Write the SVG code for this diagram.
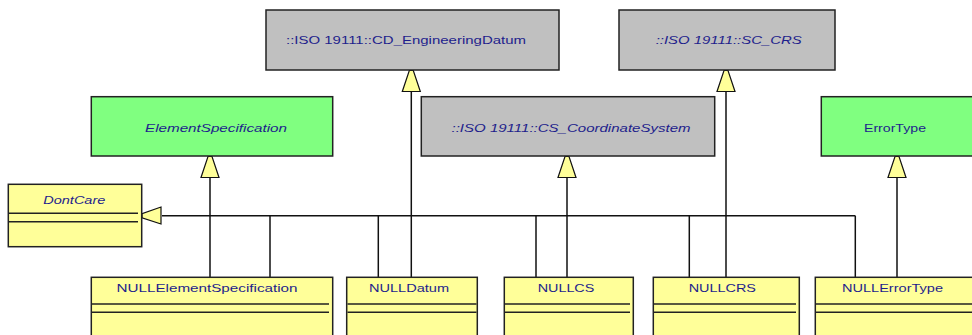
<svg xmlns="http://www.w3.org/2000/svg" width="972" height="335" viewBox="0 0 972 335">
<style>
.box{stroke:#222;stroke-width:1.5}
.gray{fill:#c0c0c0}
.green{fill:#80ff80}
.yel{fill:#ffff99}
.div{stroke:#222;stroke-width:1.5;fill:none}
.t{font-family:"Liberation Sans",Arial,sans-serif;font-size:11.5px;fill:#1e1e8c;text-anchor:middle}
.i{font-style:italic}
.ln{stroke:#111;stroke-width:1.5;fill:none}
.ah{fill:#ffff99;stroke:#111;stroke-width:1.2}
</style>
<defs>
<polygon id="up" class="ah" points="-2,0 2,0 9,21 -9,21"/>
</defs>
<rect width="972" height="335" fill="#fff"/>

<g id="connectors">
<line class="ln" x1="162" y1="215.7" x2="855.3" y2="215.7"/>
<line class="ln" x1="270" y1="215.7" x2="270" y2="277.3"/>
<line class="ln" x1="378.3" y1="215.7" x2="378.3" y2="277.3"/>
<line class="ln" x1="536" y1="215.7" x2="536" y2="277.3"/>
<line class="ln" x1="689.3" y1="215.7" x2="689.3" y2="277.3"/>
<line class="ln" x1="855.3" y1="215.7" x2="855.3" y2="277.3"/>
<line class="ln" x1="210" y1="177" x2="210" y2="277.3"/>
<line class="ln" x1="411.3" y1="91" x2="411.3" y2="277.3"/>
<line class="ln" x1="567" y1="177" x2="567" y2="277.3"/>
<line class="ln" x1="726" y1="91" x2="726" y2="277.3"/>
<line class="ln" x1="897" y1="177" x2="897" y2="277.3"/>
<use href="#up" x="411.3" y="70.5"/>
<use href="#up" x="726" y="70.5"/>
<use href="#up" x="210" y="156.5"/>
<use href="#up" x="567" y="156.5"/>
<use href="#up" x="897" y="156.5"/>
<polygon class="ah" points="142,213.7 142,217.7 161,224 161,207"/>
</g>

<g id="CD_EngineeringDatum">
<rect class="box gray" x="266" y="10" width="293" height="60"/>
<text class="t" x="406" y="44" textLength="240" lengthAdjust="spacingAndGlyphs">::ISO 19111::CD_EngineeringDatum</text>
</g>
<g id="SC_CRS">
<rect class="box gray" x="619" y="10" width="216" height="60"/>
<text class="t i" x="728.7" y="44" textLength="146" lengthAdjust="spacingAndGlyphs">::ISO 19111::SC_CRS</text>
</g>
<g id="ElementSpecification">
<rect class="box green" x="91.3" y="96.7" width="241.4" height="59.3"/>
<text class="t i" x="216" y="131.5" textLength="142" lengthAdjust="spacingAndGlyphs">ElementSpecification</text>
</g>
<g id="CS_CoordinateSystem">
<rect class="box gray" x="421.3" y="96.7" width="293.4" height="59.3"/>
<text class="t i" x="571" y="131.5" textLength="239" lengthAdjust="spacingAndGlyphs">::ISO 19111::CS_CoordinateSystem</text>
</g>
<g id="ErrorType">
<rect class="box green" x="821.3" y="96.7" width="160" height="59.3"/>
<text class="t" x="895" y="131.5" textLength="62" lengthAdjust="spacingAndGlyphs">ErrorType</text>
</g>
<g id="DontCare">
<rect class="box yel" x="8.3" y="184.3" width="133.4" height="62.4"/>
<line class="div" x1="9" y1="213.3" x2="138" y2="213.3"/>
<line class="div" x1="9" y1="221.7" x2="138" y2="221.7"/>
<text class="t i" x="74.3" y="203.5" textLength="62" lengthAdjust="spacingAndGlyphs">DontCare</text>
</g>
<g id="NULLElementSpecification">
<rect class="box yel" x="91.3" y="277.3" width="241.4" height="70"/>
<line class="div" x1="92" y1="304" x2="329" y2="304"/>
<line class="div" x1="92" y1="312.3" x2="329" y2="312.3"/>
<text class="t" x="207" y="291.5" textLength="181" lengthAdjust="spacingAndGlyphs">NULLElementSpecification</text>
</g>
<g id="NULLDatum">
<rect class="box yel" x="346.7" y="277.3" width="130.6" height="70"/>
<line class="div" x1="347.5" y1="304" x2="476.5" y2="304"/>
<line class="div" x1="347.5" y1="312.3" x2="476.5" y2="312.3"/>
<text class="t" x="409" y="291.5" textLength="80" lengthAdjust="spacingAndGlyphs">NULLDatum</text>
</g>
<g id="NULLCS">
<rect class="box yel" x="504.3" y="277.3" width="129" height="70"/>
<line class="div" x1="505" y1="304" x2="630" y2="304"/>
<line class="div" x1="505" y1="312.3" x2="630" y2="312.3"/>
<text class="t" x="566" y="291.5" textLength="56.7" lengthAdjust="spacingAndGlyphs">NULLCS</text>
</g>
<g id="NULLCRS">
<rect class="box yel" x="653.3" y="277.3" width="146" height="70"/>
<line class="div" x1="654" y1="304" x2="796" y2="304"/>
<line class="div" x1="654" y1="312.3" x2="796" y2="312.3"/>
<text class="t" x="722.3" y="291.5" textLength="67.3" lengthAdjust="spacingAndGlyphs">NULLCRS</text>
</g>
<g id="NULLErrorType">
<rect class="box yel" x="815.3" y="277.3" width="165" height="70"/>
<line class="div" x1="816" y1="304" x2="980" y2="304"/>
<line class="div" x1="816" y1="312.3" x2="980" y2="312.3"/>
<text class="t" x="892.5" y="291.5" textLength="101" lengthAdjust="spacingAndGlyphs">NULLErrorType</text>
</g>
</svg>
